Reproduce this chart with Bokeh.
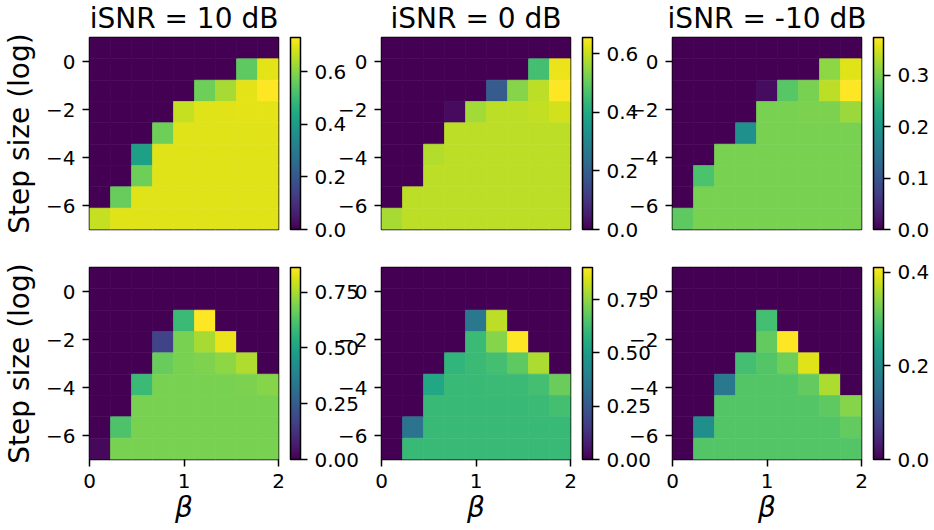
import numpy as np
from bokeh.plotting import figure
from bokeh.models import (LinearColorMapper, ColorBar, FixedTicker, ColumnDataSource)
from bokeh.transform import transform
from bokeh.layouts import row, column
from bokeh.palettes import Viridis256
from bokeh.embed import file_html
from bokeh.resources import INLINE

FONT = "DejaVu Sans"

# ---------------- data ----------------
beta_extent = [0.0, 2.0]
logstep_extent = [-7.0, 1.0]
n_beta = 9
n_step = 9

col_titles = ["iSNR = 10 dB", "iSNR = 0 dB", "iSNR = -10 dB"]
x_ticks = [0, 1, 2]
x_tick_labels = ["0", "1", "2"]
y_ticks = [-6, -4, -2, 0]
y_tick_labels = ["\u22126", "\u22124", "\u22122", "0"]

# rows listed top (log step = 1) to bottom (log step = -7), columns beta 0 -> 2
top_10db = [
    [0, 0, 0, 0, 0, 0, 0, 0, 0],
    [0, 0, 0, 0, 0, 0, 0, 0.55, 0.70],
    [0, 0, 0, 0, 0, 0.57, 0.635, 0.70, 0.73],
    [0, 0, 0, 0, 0.665, 0.695, 0.697, 0.70, 0.70],
    [0, 0, 0, 0.57, 0.695, 0.695, 0.695, 0.695, 0.697],
    [0, 0, 0.415, 0.695, 0.695, 0.695, 0.695, 0.695, 0.695],
    [0, 0, 0.57, 0.695, 0.695, 0.695, 0.695, 0.695, 0.695],
    [0, 0.56, 0.695, 0.695, 0.695, 0.695, 0.695, 0.695, 0.695],
    [0.665, 0.695, 0.695, 0.695, 0.695, 0.695, 0.695, 0.695, 0.695],
]
top_0db = [
    [0, 0, 0, 0, 0, 0, 0, 0, 0],
    [0, 0, 0, 0, 0, 0, 0, 0.46, 0.635],
    [0, 0, 0, 0, 0, 0.19, 0.535, 0.59, 0.655],
    [0, 0, 0, 0.02, 0.565, 0.59, 0.59, 0.595, 0.61],
    [0, 0, 0, 0.59, 0.59, 0.59, 0.59, 0.59, 0.59],
    [0, 0, 0.58, 0.59, 0.59, 0.59, 0.59, 0.59, 0.59],
    [0, 0, 0.59, 0.59, 0.59, 0.59, 0.59, 0.59, 0.59],
    [0, 0.59, 0.59, 0.59, 0.59, 0.59, 0.59, 0.59, 0.59],
    [0.57, 0.59, 0.59, 0.59, 0.59, 0.59, 0.59, 0.59, 0.59],
]
top_m10db = [
    [0, 0, 0, 0, 0, 0, 0, 0, 0],
    [0, 0, 0, 0, 0, 0, 0, 0.31, 0.355],
    [0, 0, 0, 0, 0.012, 0.276, 0.298, 0.336, 0.373],
    [0, 0, 0, 0, 0.298, 0.298, 0.30, 0.30, 0.317],
    [0, 0, 0, 0.187, 0.298, 0.298, 0.298, 0.298, 0.298],
    [0, 0, 0.298, 0.298, 0.298, 0.298, 0.298, 0.298, 0.298],
    [0, 0.268, 0.298, 0.298, 0.298, 0.298, 0.298, 0.298, 0.298],
    [0, 0.298, 0.298, 0.298, 0.298, 0.298, 0.298, 0.298, 0.298],
    [0.28, 0.298, 0.298, 0.298, 0.298, 0.298, 0.298, 0.298, 0.298],
]
bot_10db = [
    [0, 0, 0, 0, 0, 0, 0, 0, 0],
    [0, 0, 0, 0, 0, 0, 0, 0, 0],
    [0, 0, 0, 0, 0.585, 0.86, 0, 0, 0],
    [0, 0, 0, 0.172, 0.688, 0.748, 0.834, 0, 0],
    [0, 0, 0, 0.66, 0.688, 0.695, 0.714, 0.757, 0],
    [0, 0, 0.585, 0.688, 0.688, 0.688, 0.688, 0.69, 0.705],
    [0, 0, 0.688, 0.688, 0.688, 0.688, 0.688, 0.688, 0.688],
    [0, 0.62, 0.688, 0.688, 0.688, 0.688, 0.688, 0.688, 0.688],
    [0.017, 0.688, 0.688, 0.688, 0.688, 0.688, 0.688, 0.688, 0.688],
]
bot_0db = [
    [0, 0, 0, 0, 0, 0, 0, 0, 0],
    [0, 0, 0, 0, 0, 0, 0, 0, 0],
    [0, 0, 0, 0, 0.36, 0.81, 0, 0, 0],
    [0, 0, 0, 0, 0.612, 0.738, 0.90, 0, 0],
    [0, 0, 0, 0.594, 0.612, 0.63, 0.675, 0.79, 0],
    [0, 0, 0.54, 0.61, 0.61, 0.615, 0.615, 0.63, 0.693],
    [0, 0, 0.61, 0.61, 0.61, 0.61, 0.61, 0.612, 0.63],
    [0, 0.342, 0.61, 0.61, 0.61, 0.61, 0.61, 0.61, 0.61],
    [0, 0.61, 0.61, 0.61, 0.61, 0.61, 0.61, 0.61, 0.61],
]
bot_m10db = [
    [0, 0, 0, 0, 0, 0, 0, 0, 0],
    [0, 0, 0, 0, 0, 0, 0, 0, 0],
    [0, 0, 0, 0, 0.287, 0, 0, 0, 0],
    [0, 0, 0, 0, 0.312, 0.41, 0, 0, 0],
    [0, 0, 0, 0.287, 0.30, 0.32, 0.39, 0, 0],
    [0, 0, 0.164, 0.30, 0.30, 0.30, 0.312, 0.36, 0],
    [0, 0, 0.30, 0.30, 0.30, 0.30, 0.30, 0.308, 0.336],
    [0, 0.205, 0.30, 0.30, 0.30, 0.30, 0.30, 0.30, 0.312],
    [0, 0.30, 0.30, 0.30, 0.30, 0.30, 0.30, 0.30, 0.30],
]

vmax_top = [0.73, 0.655, 0.373]
vmax_bot = [0.86, 0.90, 0.41]
cb_ticks_top = [[0, 0.2, 0.4, 0.6], [0, 0.2, 0.4, 0.6], [0, 0.1, 0.2, 0.3]]
cb_labels_top = [["0.0", "0.2", "0.4", "0.6"], ["0.0", "0.2", "0.4", "0.6"],
                 ["0.0", "0.1", "0.2", "0.3"]]
cb_ticks_bot = [[0, 0.25, 0.5, 0.75], [0, 0.25, 0.5, 0.75], [0, 0.2, 0.4]]
cb_labels_bot = [["0.00", "0.25", "0.50", "0.75"], ["0.00", "0.25", "0.50", "0.75"],
                 ["0.0", "0.2", "0.4"]]

# ---------------- layout constants ----------------
FW, FH = 189, 192
left_border = [60, 50, 50]
right_border = [84, 84, 70]
left_margin = [0, -31, -32]


def make_panel(mat, vmax, ticks, labels, ci, top_row):
    arr = np.array(mat, dtype=float)
    dx = (beta_extent[1] - beta_extent[0]) / n_beta
    dy = (logstep_extent[1] - logstep_extent[0]) / n_step
    xs, ys, vs = [], [], []
    for r in range(n_step):
        for c in range(n_beta):
            xs.append(beta_extent[0] + (c + 0.5) * dx)
            ys.append(logstep_extent[1] - (r + 0.5) * dy)
            vs.append(arr[r, c])
    src = ColumnDataSource(dict(x=xs, y=ys, val=vs))
    mapper = LinearColorMapper(palette=Viridis256, low=0, high=vmax)

    kw = dict(frame_width=FW, frame_height=FH,
              x_range=tuple(beta_extent), y_range=tuple(logstep_extent),
              output_backend="svg", toolbar_location=None,
              min_border_left=left_border[ci], min_border_right=right_border[ci])
    if top_row:
        kw.update(min_border_top=0, min_border_bottom=18, x_axis_location=None,
                  title=col_titles[ci])
        margin = (-4, 0, 0, left_margin[ci])
    else:
        kw.update(min_border_top=20, min_border_bottom=10)
        margin = (0, 0, 0, left_margin[ci])
    p = figure(**kw)
    p.margin = margin
    p.grid.visible = False
    p.border_fill_color = None
    p.background_fill_color = None
    p.outline_line_color = "black"
    p.outline_line_width = 1.5

    if top_row:
        p.title.align = "center"
        p.title.text_font = FONT
        p.title.text_font_size = "28px"
        p.title.text_font_style = "normal"
        p.title.text_color = "black"
        p.title.standoff = 6

    p.rect(x="x", y="y", width=dx, height=dy, source=src,
           fill_color=transform("val", mapper),
           line_color=transform("val", mapper), line_width=0.7)

    # y axis
    ya = p.yaxis[0]
    ya.ticker = FixedTicker(ticks=y_ticks)
    ya.major_label_overrides = dict(zip(y_ticks, y_tick_labels))
    ya.minor_tick_line_color = None
    ya.axis_line_color = None
    ya.major_tick_line_color = "black"
    ya.major_tick_line_width = 1.5
    ya.major_tick_out = 7
    ya.major_tick_in = 0
    ya.major_label_standoff = 7
    ya.major_label_text_font = FONT
    ya.major_label_text_font_size = "20px"
    ya.major_label_text_color = "black"
    if ci == 0:
        ya.axis_label = "Step size (log)"
        ya.axis_label_text_font = FONT
        ya.axis_label_text_font_size = "28px"
        ya.axis_label_text_font_style = "normal"
        ya.axis_label_text_color = "black"
        ya.axis_label_standoff = 7

    if not top_row:
        xa = p.xaxis[0]
        xa.ticker = FixedTicker(ticks=x_ticks)
        xa.major_label_overrides = dict(zip(x_ticks, x_tick_labels))
        xa.minor_tick_line_color = None
        xa.axis_line_color = None
        xa.major_tick_line_color = "black"
        xa.major_tick_line_width = 1.5
        xa.major_tick_out = 7
        xa.major_tick_in = 0
        xa.major_label_standoff = 7
        xa.major_label_text_font = FONT
        xa.major_label_text_font_size = "20px"
        xa.major_label_text_color = "black"
        xa.axis_label = "\u03b2"
        xa.axis_label_text_font = FONT
        xa.axis_label_text_font_size = "28px"
        xa.axis_label_text_font_style = "italic"
        xa.axis_label_text_color = "black"
        xa.axis_label_standoff = 0

    cb = ColorBar(color_mapper=mapper, location=(FW + 12, 0), width=10, height=FH,
                  padding=0, margin=0,
                  ticker=FixedTicker(ticks=ticks),
                  major_label_overrides=dict(zip(ticks, labels)),
                  major_label_text_font=FONT, major_label_text_font_size="20px",
                  major_label_text_color="black",
                  major_tick_line_color="black", major_tick_line_width=1.5,
                  major_tick_out=7, major_tick_in=0,
                  minor_tick_line_color=None,
                  bar_line_color="black", bar_line_width=1.5,
                  background_fill_color=None, border_line_color=None,
                  label_standoff=7)
    p.add_layout(cb, "center")
    return p


top_mats = [top_10db, top_0db, top_m10db]
bot_mats = [bot_10db, bot_0db, bot_m10db]
top_figs = [make_panel(top_mats[i], vmax_top[i], cb_ticks_top[i], cb_labels_top[i], i, True)
            for i in range(3)]
bot_figs = [make_panel(bot_mats[i], vmax_bot[i], cb_ticks_bot[i], cb_labels_bot[i], i, False)
            for i in range(3)]

layout = column(row(*top_figs), row(*bot_figs))
open("out.html", "w").write(file_html(layout, INLINE))
